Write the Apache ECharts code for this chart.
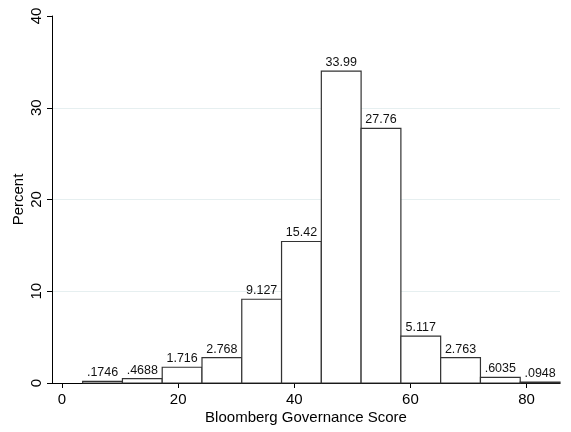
<!DOCTYPE html>
<html>
<head>
<meta charset="utf-8">
<script src="https://cdn.jsdelivr.net/npm/echarts@6/dist/echarts.min.js"></script>
<style>
html,body{margin:0;padding:0;background:#fff;}
#chart{width:571px;height:432px;}
</style>
</head>
<body>
<div id="chart"></div>
<script>
// Histogram bin edges (Bloomberg Governance Score)
const binEdges = [3.56, 10.41, 17.26, 24.11, 30.96, 37.81, 44.66, 51.51, 58.36, 65.21, 72.06, 78.91, 85.76];
// Percent per bin
const percentValues = [0.1746, 0.4688, 1.716, 2.768, 9.127, 15.42, 33.99, 27.76, 5.117, 2.763, 0.6035, 0.0948];
const xTicks = [0, 20, 40, 60, 80];
const yTicks = [0, 10, 20, 30, 40];

const fmt = v => String(v).replace(/^0\./, '.');
const data = percentValues.map((v, i) => [binEdges[i], binEdges[i + 1], v]);

const FONT = 'Arial';
const chart = echarts.init(document.getElementById('chart'), null, {renderer: 'canvas'});
chart.setOption({
  backgroundColor: '#ffffff',
  animation: false,
  grid: {left: 52, right: 11, top: 16, bottom: 49, containLabel: false},
  xAxis: {
    type: 'value',
    min: -1.72,
    max: 85.76,
    name: 'Bloomberg Governance Score',
    nameLocation: 'middle',
    nameGap: 27,
    nameMoveOverlap: false,
    nameTextStyle: {fontFamily: FONT, fontSize: 15, color: '#000'},
    axisLine: {show: true, onZero: false, lineStyle: {color: '#000', width: 1}},
    axisTick: {show: true, length: 5, customValues: xTicks, lineStyle: {color: '#000'}},
    axisLabel: {customValues: xTicks, margin: 9, fontFamily: FONT, fontSize: 15, color: '#000'},
    splitLine: {show: false}
  },
  yAxis: {
    type: 'value',
    min: 0,
    max: 40,
    interval: 10,
    name: 'Percent',
    nameLocation: 'middle',
    nameGap: 26,
    nameMoveOverlap: false,
    nameTextStyle: {fontFamily: FONT, fontSize: 15, color: '#000'},
    axisLine: {show: true, onZero: false, lineStyle: {color: '#000', width: 1}},
    axisTick: {show: true, length: 5, customValues: yTicks, lineStyle: {color: '#000'}},
    axisLabel: {rotate: 90, margin: 8, customValues: yTicks, fontFamily: FONT, fontSize: 15, color: '#000'},
    splitLine: {show: true, showMinLine: false, showMaxLine: false, lineStyle: {color: '#e6eff0', width: 1}}
  },
  series: [{
    type: 'custom',
    data: data,
    renderItem: function (params, api) {
      const x0 = api.value(0), x1 = api.value(1), y = api.value(2);
      const p0 = api.coord([x0, y]);
      const p1 = api.coord([x1, 0]);
      return {
        type: 'group',
        children: [
          {
            type: 'rect',
            shape: {x: p0[0], y: p0[1], width: p1[0] - p0[0], height: p1[1] - p0[1]},
            style: {fill: '#ffffff', stroke: '#333333', lineWidth: 1.2}
          },
          {
            type: 'text',
            style: {
              text: fmt(y),
              x: (p0[0] + p1[0]) / 2,
              y: p0[1] - 8.5,
              align: 'center',
              verticalAlign: 'middle',
              font: '12.5px Arial',
              fill: '#111'
            }
          }
        ]
      };
    }
  }]
});
</script>
</body>
</html>
